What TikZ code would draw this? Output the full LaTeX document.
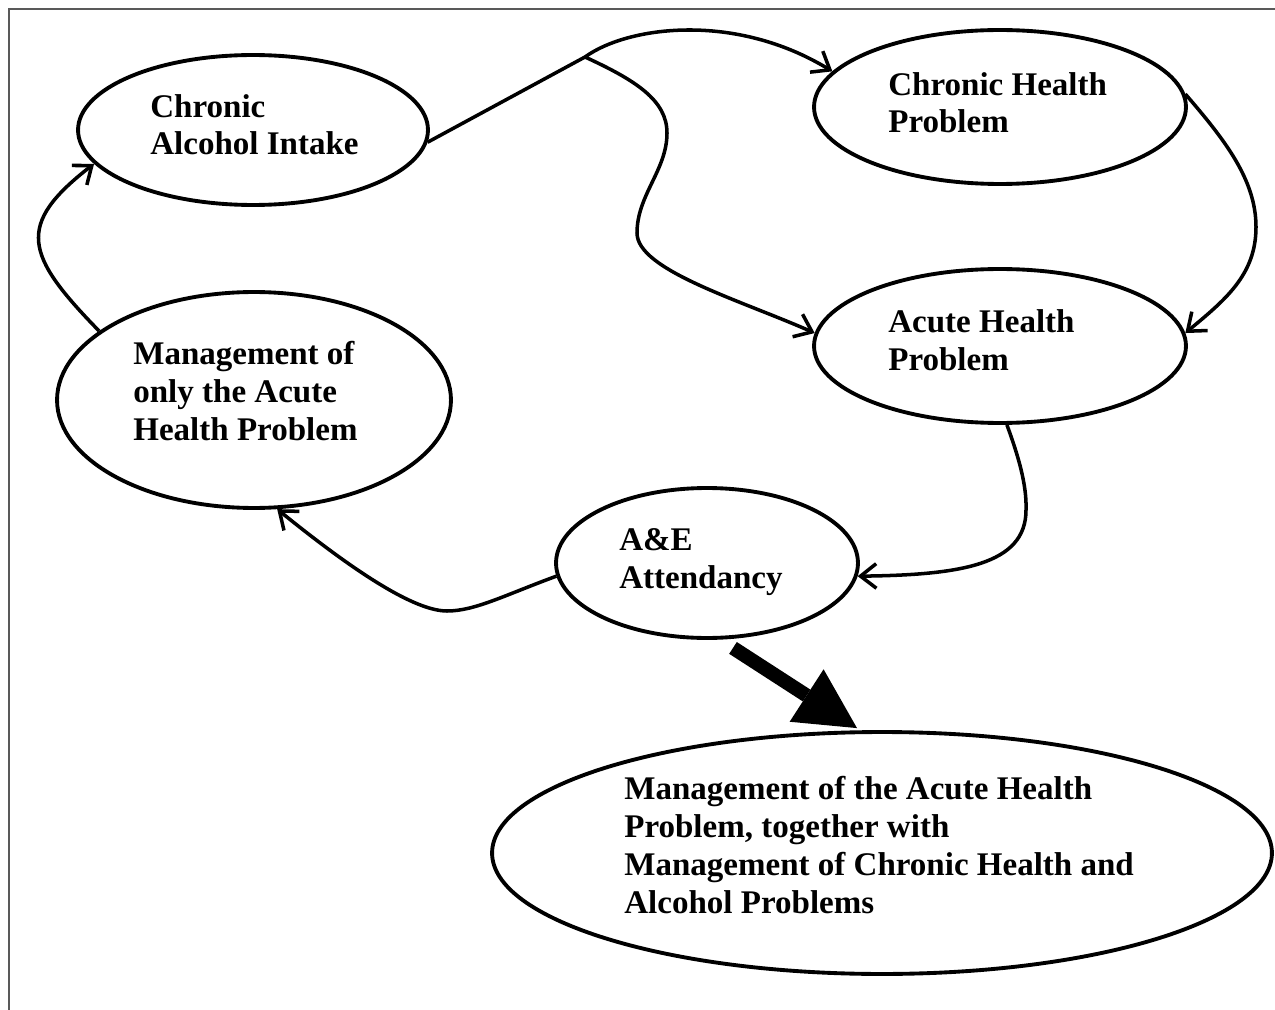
\documentclass[tikz,border=0pt]{standalone}
\usepackage{fontspec}
\setmainfont{Liberation Serif}
\usetikzlibrary{shapes.geometric,arrows.meta}

\begin{document}
\begin{tikzpicture}[x=0.02cm, y=-0.02cm,
    blob/.style={draw, ellipse, line width=2.2pt, inner sep=0pt},
    lbl/.style={anchor=base west, align=left, inner sep=0pt,
        font=\bfseries\fontsize{18.8}{21.5}\selectfont},
    flow/.style={line width=2pt, -{Straight Barb[length=9pt,width=14pt]}},
    bigflow/.style={line width=8pt, -{Triangle[length=1.2cm,width=1.25cm,line width=0pt]}}]
    \useasboundingbox (0,0) rectangle (1275,1010);
    \draw[line width=1.1pt, black!65] (9,1010) -- (9,9) -- (1275,9);

    % ellipses
    \node[blob, minimum width=7cm, minimum height=3cm] (intake) at (253,130) {};
    \node[blob, minimum width=7.44cm, minimum height=3.08cm] (chronic) at (1000,107) {};
    \node[blob, minimum width=7.44cm, minimum height=3.08cm] (acute) at (1000,346) {};
    \node[blob, minimum width=7.88cm, minimum height=4.32cm] (onlyacute) at (254,400) {};
    \node[blob, minimum width=6.04cm, minimum height=3cm] (ae) at (707,563) {};
    \node[blob, minimum width=15.6cm, minimum height=4.84cm] (both) at (882,853) {};

    % texts (anchored at the baseline of the last line)
    \node[lbl] (intaketext) at (150,155) {Chronic\\Alcohol Intake};
    \node[lbl] (chronictext) at (888,133) {Chronic Health\\Problem};
    \node[lbl] (acutetext) at (888,370) {Acute Health\\Problem};
    \node[lbl] (onlyacutetext) at (133,440) {Management of\\only the Acute\\Health Problem};
    \node[lbl] (aetext) at (619,588) {A\&E\\Attendancy};
    \node[lbl] (bothtext) at (624,913) {Management of the Acute Health\\Problem, together with\\Management of Chronic Health and\\Alcohol Problems};

    % connectors
    \coordinate (fork) at (585,57);
    \draw[flow] (intake.-4) -- (fork) .. controls (628,26) and (735,12) .. (chronic.168);
    \draw[flow] (fork) .. controls (635,80) and (667,100) .. (667,133)
        .. controls (667,170) and (637,195) .. (637,233)
        .. controls (637,270) and (740,300) .. (acute.176);
    \draw[flow] (chronic.4) .. controls (1225,140) and (1256,180) .. (1256,227)
        .. controls (1256,275) and (1225,300) .. (acute.4);
    \draw[flow] (acute.-85) .. controls (1018,455) and (1027,485) .. (1026,510)
        .. controls (1026,565) and (960,575) .. (ae.-5);
    \draw[flow] (ae.185) .. controls (505,595) and (475,611) .. (447,611)
        .. controls (410,611) and (340,560) .. (onlyacute.-78);
    \draw[flow] (onlyacute.156) .. controls (25,255) and (15,225) .. (intake.192);
    \draw[bigflow] ([shift={(26,8)}]ae.south) -- ([shift={(-25,-2)}]both.north);
\end{tikzpicture}
\end{document}
